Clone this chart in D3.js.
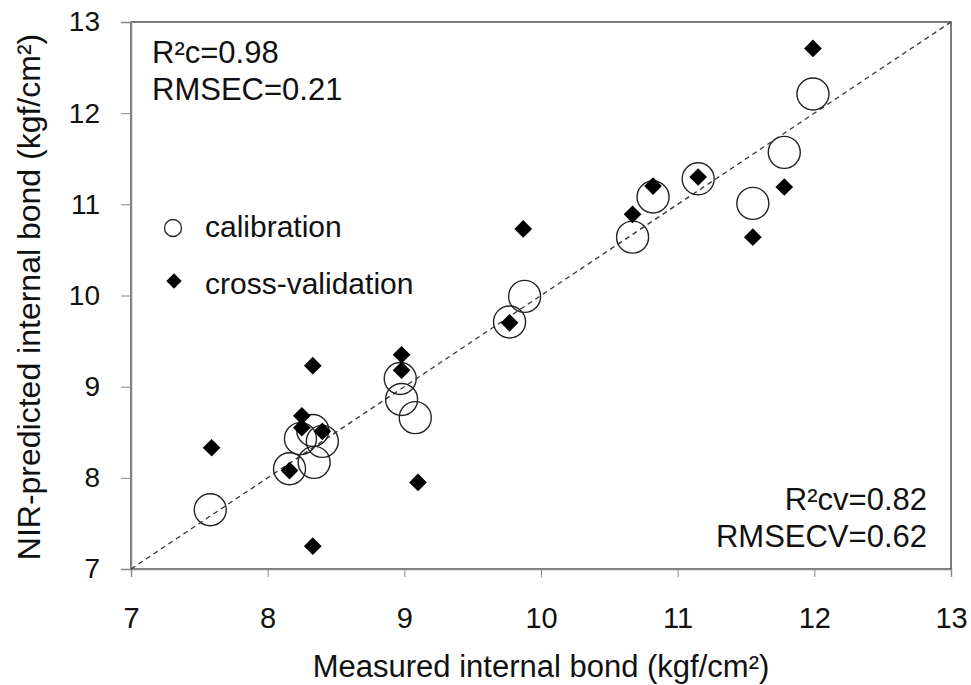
<!DOCTYPE html>
<html>
<head>
<meta charset="utf-8">
<script src="https://cdn.jsdelivr.net/npm/d3@7"></script>
<style>
  body { margin:0; background:#fff; }
  text { font-family: "Liberation Sans", Arial, sans-serif; fill:#111; }
</style>
</head>
<body>
<div class="canvas"></div>
<script>
// calibration (measured, predicted)
const calMeasured  = [7.58, 8.16, 8.34, 8.24, 8.33, 8.40, 8.97, 8.98, 9.08, 9.77, 9.88, 10.67, 10.82, 11.15, 11.55, 11.78, 11.99]
const calPredicted = [7.65, 8.10, 8.17, 8.43, 8.52, 8.40, 9.09, 8.86, 8.66, 9.71, 9.99, 10.64, 11.08, 11.28, 11.01, 11.57, 12.21]
// cross-validation (measured, predicted)
const cvMeasured  = [7.59, 8.16, 8.25, 8.25, 8.33, 8.33, 8.40, 8.98, 8.98, 9.10, 9.77, 9.87, 10.67, 10.82, 11.15, 11.55, 11.78, 11.99]
const cvPredicted = [8.33, 8.08, 8.55, 8.68, 9.23, 7.25, 8.51, 9.35, 9.18, 7.95, 9.70, 10.73, 10.89, 11.20, 11.30, 10.64, 11.19, 12.71]
const ticks = [7, 8, 9, 10, 11, 12, 13]

const W = 971, H = 685
const m = {left:131, right:20, top:22, bottom:116}
const iw = W - m.left - m.right, ih = H - m.top - m.bottom

const svg = d3.select('.canvas').append('svg')
    .attr('width', W).attr('height', H)

const x = d3.scaleLinear().domain([7, 13]).range([m.left, m.left + iw])
const y = d3.scaleLinear().domain([7, 13]).range([m.top + ih, m.top])

// frame
svg.append('rect')
    .attr('x', m.left).attr('y', m.top).attr('width', iw).attr('height', ih)
    .attr('fill', 'none').attr('stroke', '#222').attr('stroke-width', 1.2)

const xAxis = svg.append('g')
    .attr('transform', `translate(0,${m.top + ih})`)
    .call(d3.axisBottom(x).tickValues(ticks).tickFormat(d3.format('d')).tickSize(8).tickPadding(30))
const yAxis = svg.append('g')
    .attr('transform', `translate(${m.left},0)`)
    .call(d3.axisLeft(y).tickValues(ticks).tickFormat(d3.format('d')).tickSize(10).tickPadding(21))

;[xAxis, yAxis].forEach(a => {
    a.select('.domain').attr('stroke', '#888').attr('stroke-width', 1.5)
    a.selectAll('.tick line').attr('stroke', '#888')
    a.selectAll('text').attr('font-size', 28).attr('fill', '#111')
        .style('font-family', '"Liberation Sans", Arial, sans-serif')
})
xAxis.selectAll('text').attr('font-size', 29)

// 1:1 line
svg.append('line')
    .attr('x1', x(7)).attr('y1', y(7)).attr('x2', x(13)).attr('y2', y(13))
    .attr('stroke', '#333').attr('stroke-width', 1.3).attr('stroke-dasharray', '5,4')

// calibration circles
svg.append('g').selectAll('circle')
    .data(calMeasured.map((d, i) => [d, calPredicted[i]]))
    .enter().append('circle')
    .attr('cx', d => x(d[0])).attr('cy', d => y(d[1])).attr('r', 16)
    .attr('fill', 'none').attr('stroke', '#222').attr('stroke-width', 1.4)

const diamond = d3.symbol().type(d3.symbolDiamond2).size(200)

svg.append('g').selectAll('path')
    .data(cvMeasured.map((d, i) => [d, cvPredicted[i]]))
    .enter().append('path')
    .attr('d', diamond)
    .attr('transform', d => `translate(${x(d[0])},${y(d[1])})`)
    .attr('fill', '#000')

// legend
svg.append('circle').attr('cx', 173).attr('cy', 228).attr('r', 8.5)
    .attr('fill', 'none').attr('stroke', '#222').attr('stroke-width', 1.3)
svg.append('text').attr('x', 205).attr('y', 237).attr('font-size', 30).text('calibration')
svg.append('path').attr('d', d3.symbol().type(d3.symbolDiamond2).size(150))
    .attr('transform', 'translate(174,281)').attr('fill', '#000')
svg.append('text').attr('x', 205).attr('y', 294).attr('font-size', 30).text('cross-validation')

// stats
svg.append('text').attr('x', 152).attr('y', 63).attr('font-size', 31).text('R²c=0.98')
svg.append('text').attr('x', 152).attr('y', 100).attr('font-size', 31).text('RMSEC=0.21')
svg.append('text').attr('x', 927).attr('y', 510).attr('font-size', 31)
    .attr('text-anchor', 'end').text('R²cv=0.82')
svg.append('text').attr('x', 927).attr('y', 547).attr('font-size', 31)
    .attr('text-anchor', 'end').text('RMSECV=0.62')

// axis titles
svg.append('text').attr('x', x(10)).attr('y', 677).attr('font-size', 31)
    .attr('text-anchor', 'middle').text('Measured internal bond (kgf/cm²)')
svg.append('text').attr('transform', `translate(40,297) rotate(-90)`)
    .attr('font-size', 32).attr('text-anchor', 'middle')
    .text('NIR-predicted internal bond (kgf/cm²)')
</script>
</body>
</html>
